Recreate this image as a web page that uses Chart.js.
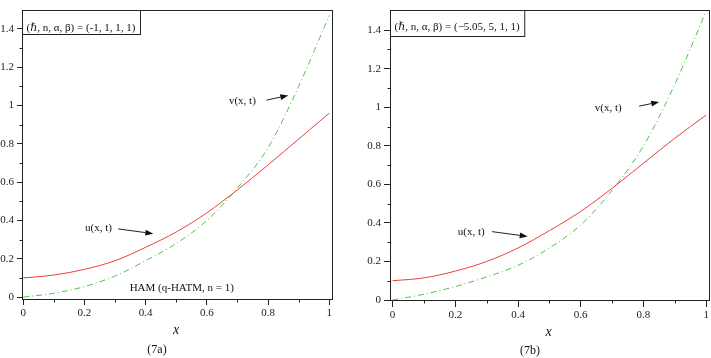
<!DOCTYPE html>
<html>
<head>
<meta charset="utf-8">
<script src="https://cdn.jsdelivr.net/npm/chart.js@4/dist/chart.umd.min.js"></script>
<style>
html,body{margin:0;padding:0;background:#fff;width:711px;height:358px;overflow:hidden;}
canvas{position:absolute;top:0;}
#c1{left:0;}
#c2{left:355px;}
</style>
</head>
<body>
<canvas id="c1" width="355" height="358"></canvas>
<canvas id="c2" width="356" height="358"></canvas>
<script>
// ---- data ----
const xs = [0, 0.1, 0.2, 0.3, 0.4, 0.5, 0.6, 0.7, 0.8, 0.9, 1.0];
const uLeft  = [0.10, 0.115, 0.145, 0.19, 0.26, 0.34, 0.44, 0.56, 0.69, 0.825, 0.96];
const vLeft  = [0.00, 0.02, 0.055, 0.11, 0.19, 0.28, 0.40, 0.57, 0.78, 1.10, 1.47];
const uRight = [0.10, 0.115, 0.15, 0.20, 0.27, 0.36, 0.46, 0.58, 0.71, 0.84, 0.96];
const vRight = [0.00, 0.03, 0.07, 0.12, 0.18, 0.27, 0.39, 0.57, 0.80, 1.12, 1.50];
const xTickValues = [0, 0.1, 0.2, 0.3, 0.4, 0.5, 0.6, 0.7, 0.8, 0.9, 1.0];
const yTickValues = [0, 0.1, 0.2, 0.3, 0.4, 0.5, 0.6, 0.7, 0.8, 0.9, 1.0, 1.1, 1.2, 1.3, 1.4];
const leftParamText = "(\u210F, n, \u03B1, \u03B2) = (-1, 1, 1, 1)";
const rightParamText = "(\u210F, n, \u03B1, \u03B2) = (\u22125.05, 5, 1, 1)";
const uLabel = "u(x, t)";
const vLabel = "v(x, t)";
const hamText = "HAM (q-HATM, n = 1)";
const xTitle = "x";
const leftCaption = "(7a)";
const rightCaption = "(7b)";

const FONT = "'Liberation Serif', 'DejaVu Serif', serif";
const isMajor = v => Math.round(v * 10) % 2 === 0;
const fmt = v => { const r = Math.round(v * 10) / 10; return r === 0 ? "0" : (Number.isInteger(r) ? String(r) : r.toFixed(1)); };

function arrow(ctx, x1, y1, x2, y2) {
  ctx.beginPath(); ctx.moveTo(x1, y1);
  const ang = Math.atan2(y2 - y1, x2 - x1);
  const L = 8, W = 3;
  const bx = x2 - L * Math.cos(ang), by = y2 - L * Math.sin(ang);
  ctx.lineTo(bx, by); ctx.stroke();
  ctx.beginPath();
  ctx.moveTo(x2, y2);
  ctx.lineTo(bx + W * Math.sin(ang), by - W * Math.cos(ang));
  ctx.lineTo(bx - W * Math.sin(ang), by + W * Math.cos(ang));
  ctx.closePath(); ctx.fill();
}

const overlay = {
  id: 'overlay',
  afterDraw(chart, args, o) {
    const { ctx, chartArea: a, scales: { x, y } } = chart;
    ctx.save();
    ctx.strokeStyle = '#222'; ctx.fillStyle = '#111'; ctx.lineWidth = 1;
    // frame
    const L = Math.round(a.left) + 0.5, T = Math.round(a.top) + 0.5, R = Math.round(a.right) - 0.5, B = Math.round(a.bottom) - 0.5;
    ctx.strokeRect(L, T, R - L, B - T);
    // minor ticks
    ctx.beginPath();
    xTickValues.filter(v => !isMajor(v)).forEach(v => { const px = Math.round(x.getPixelForValue(v)) + 0.5; ctx.moveTo(px, B); ctx.lineTo(px, B + 3); });
    yTickValues.filter(v => !isMajor(v)).forEach(v => { const py = Math.round(y.getPixelForValue(v)) + 0.5; ctx.moveTo(L, py); ctx.lineTo(L - 3, py); });
    ctx.stroke();
    // parameter box
    ctx.font = '11px ' + FONT;
    const tw = ctx.measureText(o.param).width;
    ctx.fillStyle = '#fff';
    ctx.fillRect(L, T, tw + 9, o.boxH);
    ctx.strokeRect(L, T, tw + 9, o.boxH);
    ctx.fillStyle = '#111';
    ctx.textBaseline = 'alphabetic'; ctx.textAlign = 'left';
    ctx.fillText(o.param, L + 4, T + o.boxBase);
    // curve labels with arrows
    o.notes.forEach(n => {
      ctx.textBaseline = 'middle'; ctx.textAlign = 'left';
      ctx.fillText(n.text, x.getPixelForValue(n.tx), y.getPixelForValue(n.ty));
      arrow(ctx, x.getPixelForValue(n.ax1), y.getPixelForValue(n.ay1), x.getPixelForValue(n.ax2), y.getPixelForValue(n.ay2));
    });
    if (o.ham) {
      ctx.textAlign = 'center'; ctx.textBaseline = 'middle';
      ctx.fillText(o.ham.text, x.getPixelForValue(o.ham.x), y.getPixelForValue(o.ham.y));
    }
    // axis title and caption
    ctx.textAlign = 'center'; ctx.textBaseline = 'middle';
    ctx.font = 'italic 14px ' + FONT;
    ctx.fillText(xTitle, o.titleX, o.titleY);
    ctx.font = '12px ' + FONT;
    ctx.fillText(o.caption, o.capX, o.capY);
    ctx.restore();
  }
};

function makeChart(id, u, v, sc, pad, yW, xH, tickLen, ov) {
  const pts = arr => xs.map((xv, i) => ({ x: xv, y: arr[i] }));
  return new Chart(document.getElementById(id), {
    type: 'line',
    data: {
      datasets: [
        { data: pts(u), borderColor: '#f03c3c', borderWidth: 1, pointRadius: 0, cubicInterpolationMode: 'monotone', fill: false },
        { data: pts(v), borderColor: '#4cc44c', borderWidth: 1, pointRadius: 0, cubicInterpolationMode: 'monotone', fill: false, borderDash: [6, 3, 1, 3] }
      ]
    },
    options: {
      responsive: false, animation: false, events: [],
      layout: { padding: pad },
      plugins: { legend: { display: false }, tooltip: { enabled: false }, overlay: ov },
      scales: {
        x: {
          type: 'linear', min: sc.xmin, max: sc.xmax,
          afterBuildTicks: s => { s.ticks = xTickValues.map(t => ({ value: t })); },
          afterFit: s => { s.height = xH; },
          grid: { drawOnChartArea: false, tickLength: tickLen, color: '#222', tickColor: c => (c.tick && isMajor(c.tick.value)) ? '#222' : 'rgba(0,0,0,0)' },
          border: { display: false },
          ticks: { autoSkip: false, maxRotation: 0, padding: 2, color: '#222', font: { family: FONT, size: 11 }, callback: val => isMajor(val) ? fmt(val) : '' }
        },
        y: {
          type: 'linear', min: sc.ymin, max: sc.ymax,
          afterBuildTicks: s => { s.ticks = yTickValues.map(t => ({ value: t })); },
          afterFit: s => { s.width = yW; },
          grid: { drawOnChartArea: false, tickLength: tickLen, color: '#222', tickColor: c => (c.tick && isMajor(c.tick.value)) ? '#222' : 'rgba(0,0,0,0)' },
          border: { display: false },
          ticks: { autoSkip: false, padding: 3, color: '#222', font: { family: FONT, size: 11 }, callback: val => isMajor(val) ? fmt(val) : '' }
        }
      }
    },
    plugins: [overlay]
  });
}

makeChart('c1', uLeft, vLeft,
  { xmin: -0.004, xmax: 1.012, ymin: -0.015, ymax: 1.5 },
  { top: 1, right: 22, left: 0, bottom: 0 }, 22, 58, 5,
  {
    param: leftParamText, boxH: 24, boxBase: 20,
    notes: [
      { text: vLabel, tx: 0.672, ty: 1.023, ax1: 0.795, ay1: 1.028, ax2: 0.866, ay2: 1.052 },
      { text: uLabel, tx: 0.202, ty: 0.36, ax1: 0.31, ay1: 0.356, ax2: 0.425, ay2: 0.331 }
    ],
    ham: { text: hamText, x: 0.518, y: 0.046 },
    titleX: 176, titleY: 330, caption: leftCaption, capX: 157, capY: 350
  });

makeChart('c2', uRight, vRight,
  { xmin: -0.008, xmax: 1.011, ymin: -0.005, ymax: 1.507 },
  { top: 3, right: 1, left: 0, bottom: 0 }, 35, 57, 6,
  {
    param: rightParamText, boxH: 26, boxBase: 19,
    notes: [
      { text: vLabel, tx: 0.645, ty: 0.998, ax1: 0.786, ay1: 1.006, ax2: 0.85, ay2: 1.028 },
      { text: uLabel, tx: 0.208, ty: 0.35, ax1: 0.317, ay1: 0.355, ax2: 0.431, ay2: 0.33 }
    ],
    ham: null,
    titleX: 548.5 - 355, titleY: 332, caption: rightCaption, capX: 530 - 355, capY: 351
  });
</script>
</body>
</html>
